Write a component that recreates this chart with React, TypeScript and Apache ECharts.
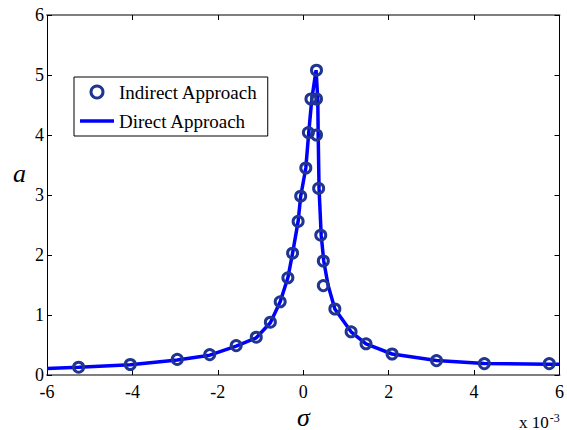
import React, { useEffect, useRef } from "react";
import * as echarts from "echarts";

// sigma values in units of 1e-3
const indirectX = [-5.26, -4.05, -2.95, -2.19, -1.57, -1.10, -0.77, -0.54, -0.36, -0.25, -0.12, -0.06, 0.06, 0.12, 0.18, 0.31, 0.31, 0.31, 0.36, 0.41, 0.47, 0.47, 0.74, 1.12, 1.47, 2.08, 3.12, 4.24, 5.76];
const indirectY = [0.13, 0.175, 0.26, 0.34, 0.49, 0.63, 0.88, 1.22, 1.62, 2.03, 2.56, 2.98, 3.45, 4.04, 4.6, 5.08, 4.6, 4.0, 3.11, 2.33, 1.9, 1.49, 1.1, 0.72, 0.52, 0.35, 0.24, 0.19, 0.19];

const directX = [-6, -5.26, -4.05, -2.95, -2.19, -1.57, -1.10, -0.77, -0.54, -0.36, -0.25, -0.12, -0.06, 0.06, 0.13, 0.20, 0.30, 0.34, 0.35, 0.37, 0.42, 0.48, 0.58, 0.74, 1.12, 1.47, 2.08, 3.12, 4.24, 5.76, 6];
const directY = [0.11, 0.13, 0.17, 0.25, 0.33, 0.48, 0.62, 0.87, 1.22, 1.62, 2.03, 2.56, 2.98, 3.45, 4.05, 4.6, 5.08, 4.6, 4.0, 3.11, 2.33, 1.9, 1.5, 1.1, 0.72, 0.52, 0.35, 0.24, 0.19, 0.18, 0.18];

const xTicks = { min: -6, max: 6, interval: 2 };
const yTicks = { min: 0, max: 6, interval: 1 };

const serif = "'Liberation Serif', 'Times New Roman', serif";

export default function App() {
  const ref = useRef<HTMLDivElement>(null);
  useEffect(() => {
    if (!ref.current) return;
    const chart = echarts.init(ref.current, null, { renderer: "svg" });
    const grid = { left: 47, right: 4, top: 15, bottom: 55 };
    const lbl = { fontFamily: serif, fontSize: 18, color: "#000" };
    chart.setOption({
      animation: false,
      backgroundColor: "#ffffff",
      grid,
      legend: {
        orient: "vertical",
        left: 74,
        top: 77,
        padding: [5, 10, 5, 6],
        itemGap: 9,
        itemWidth: 34,
        itemHeight: 12,
        itemTextGap: 5,
        borderColor: "#000",
        borderWidth: 1,
        backgroundColor: "#fff",
        textStyle: { fontFamily: serif, fontSize: 19, color: "#000", lineHeight: 20 },
        data: [
          { name: "Indirect Approach", icon: "circle", itemStyle: { color: "rgba(255,255,255,0)", borderColor: "#1f3590", borderWidth: 3 } },
          { name: "Direct Approach", icon: "path://M0,0 H34 V3.5 H0 Z", itemStyle: { color: "#0000ff", borderWidth: 0 } },
        ],
      },
      xAxis: [
        {
          type: "value",
          min: xTicks.min,
          max: xTicks.max,
          interval: xTicks.interval,
          position: "bottom",
          axisLine: { onZero: false, lineStyle: { color: "#7f7f7f", width: 2 } },
          axisTick: { inside: true, length: 5, lineStyle: { color: "#000" } },
          axisLabel: { ...lbl, margin: 8 },
          splitLine: { show: false },
        },
        {
          type: "value",
          min: xTicks.min,
          max: xTicks.max,
          interval: xTicks.interval,
          position: "top",
          axisLine: { show: true, onZero: false, lineStyle: { color: "#7f7f7f", width: 2 } },
          axisTick: { show: true, inside: true, length: 5, lineStyle: { color: "#000" } },
          axisLabel: { show: false },
          splitLine: { show: false },
        },
      ],
      yAxis: [
        {
          type: "value",
          min: yTicks.min,
          max: yTicks.max,
          interval: yTicks.interval,
          position: "left",
          axisLine: { show: true, onZero: false, lineStyle: { color: "#000", width: 1 } },
          axisTick: { show: true, inside: true, length: 5, lineStyle: { color: "#000" } },
          axisLabel: { ...lbl, margin: 3 },
          splitLine: { show: false },
        },
        {
          type: "value",
          min: yTicks.min,
          max: yTicks.max,
          interval: yTicks.interval,
          position: "right",
          axisLine: { show: true, onZero: false, lineStyle: { color: "#000", width: 1 } },
          axisTick: { show: true, inside: true, length: 5, lineStyle: { color: "#000" } },
          axisLabel: { show: false },
          splitLine: { show: false },
        },
      ],
      series: [
        {
          name: "Direct Approach",
          type: "line",
          data: directX.map((x, i) => [x, directY[i]]),
          symbol: "none",
          lineStyle: { color: "#0000ff", width: 3.5 },
          itemStyle: { color: "#0000ff" },
          z: 2,
        },
        {
          name: "Indirect Approach",
          type: "scatter",
          data: indirectX.map((x, i) => [x, indirectY[i]]),
          symbol: "circle",
          symbolSize: 10,
          itemStyle: { color: "rgba(255,255,255,0)", borderColor: "#1f3590", borderWidth: 3, opacity: 1 },
          z: 3,
        },
      ],
      graphic: [
        {
          type: "text",
          left: 13,
          top: 160,
          style: { text: "a", font: `italic 26px ${serif}`, fill: "#000" },
        },
        {
          type: "text",
          left: 297,
          top: 404,
          style: { text: "σ", font: `italic 26px ${serif}`, lineHeight: 16, fill: "#000" },
        },
        {
          type: "text",
          left: 519,
          top: 412,
          style: {
            text: "x 10{s|-3}",
            font: `17px ${serif}`,
            fill: "#000",
            rich: { s: { fontFamily: serif, fontSize: 12, verticalAlign: "top", padding: [0, 0, 8, 1] } },
          },
        },
      ],
    });
    return () => chart.dispose();
  }, []);
  return (
    <div
      ref={ref}
      style={{ position: "fixed", left: 0, top: 0, width: 567, height: 430, background: "#fff" }}
    />
  );
}
